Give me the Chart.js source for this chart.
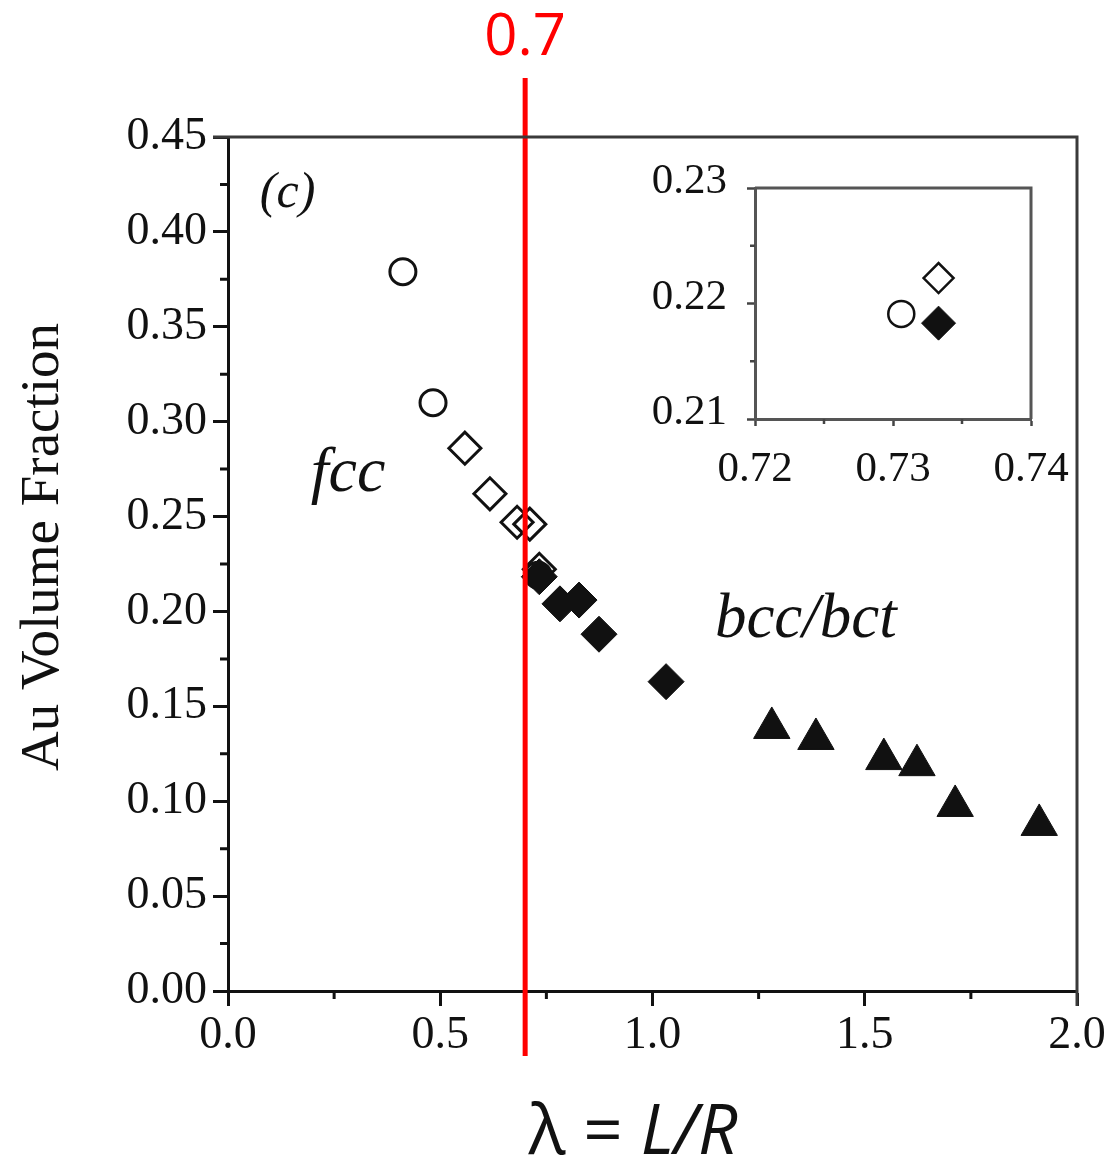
<!DOCTYPE html>
<html>
<head>
<meta charset="utf-8">
<script src="https://cdn.jsdelivr.net/npm/chart.js@4.4.0/dist/chart.umd.min.js"></script>
<style>
  html, body { margin: 0; padding: 0; background: #fff; }
  #wrap { position: relative; width: 1118px; height: 1169px; overflow: hidden; }
  #main { position: absolute; left: 0; top: 0; }
  #inset { position: absolute; left: 620px; top: 150px; }
</style>
</head>
<body>
<div id="wrap">
  <canvas id="main" width="1118" height="1169"></canvas>
  <canvas id="inset" width="470" height="350"></canvas>
</div>
<script>
// Au volume fraction versus λ = L/R, grouped by marker type
const fccCircleX   = [0.412, 0.483, 0.7306];
const fccCircleY   = [0.379, 0.310, 0.2191];
const fccDiamondX  = [0.558, 0.617, 0.681, 0.711, 0.7333];
const fccDiamondY  = [0.286, 0.262, 0.247, 0.246, 0.2222];
const bccDiamondX  = [0.7333, 0.782, 0.827, 0.874, 1.032];
const bccDiamondY  = [0.2183, 0.204, 0.206, 0.188, 0.163];
const bctTriangleX = [1.281, 1.385, 1.545, 1.623, 1.713, 1.911];
const bctTriangleY = [0.1386, 0.1328, 0.1222, 0.119, 0.0975, 0.0875];

// tick values
const xTicks = [0, 0.5, 1.0, 1.5, 2.0];
const yTicks = [0, 0.05, 0.10, 0.15, 0.20, 0.25, 0.30, 0.35, 0.40, 0.45];
const insetXTicks = [0.72, 0.73, 0.74];
const insetYTicks = [0.21, 0.22, 0.23];

// phase boundary marked in red
const boundaryX = 0.7;

const SERIF = '"Liberation Serif", "Times New Roman", serif';
const SANS = '"Open Sans", "Noto Sans", sans-serif';
const INK = '#111';

function pts(xs, ys, xr, yr) {
  const out = [];
  xs.forEach((x, i) => {
    const y = ys[i];
    if (xr && (x < xr[0] || x > xr[1] || y < yr[0] || y > yr[1])) return;
    out.push({ x, y });
  });
  return out;
}

function fixedTicks(list) {
  return scale => { scale.ticks = list.map(v => ({ value: v })); };
}

// fixed axis thickness; edge labels may overhang the plot box
function fitTo(prop, size) {
  return scale => {
    scale[prop] = size;
    scale.paddingTop = 0; scale.paddingBottom = 0;
    scale.paddingLeft = 0; scale.paddingRight = 0;
  };
}

// short ticks halfway between the labelled ones
function drawMinorTicks(ctx, scale, length, width, color) {
  const t = scale.ticks.map(k => k.value);
  ctx.save();
  ctx.strokeStyle = color;
  ctx.lineWidth = width;
  ctx.beginPath();
  for (let i = 0; i < t.length - 1; i++) {
    const v = (t[i] + t[i + 1]) / 2;
    const p = scale.getPixelForValue(v);
    if (scale.isHorizontal()) {
      ctx.moveTo(p, scale.top);
      ctx.lineTo(p, scale.top + length);
    } else {
      ctx.moveTo(scale.right, p);
      ctx.lineTo(scale.right - length, p);
    }
  }
  ctx.stroke();
  ctx.restore();
}

function markerSets(range) {
  const xr = range && range.x, yr = range && range.y;
  const big = !range;
  return [
    { label: 'bcc', data: pts(bccDiamondX, bccDiamondY, xr, yr), pointStyle: 'rectRot',
      pointRadius: big ? 18 : 17, borderWidth: 1, borderColor: INK, backgroundColor: INK, order: 0 },
    { label: 'fcc diamond', data: pts(fccDiamondX, fccDiamondY, xr, yr), pointStyle: 'rectRot',
      pointRadius: big ? 16 : 15, borderWidth: big ? 3 : 2.5, borderColor: INK, backgroundColor: 'rgba(255,255,255,0)', order: 1 },
    { label: 'fcc circle', data: pts(fccCircleX, fccCircleY, xr, yr), pointStyle: 'circle',
      pointRadius: 13, borderWidth: big ? 3 : 2.5, borderColor: INK, backgroundColor: '#fff', order: 2 },
    { label: 'bct', data: pts(bctTriangleX, bctTriangleY, xr, yr), pointStyle: 'triangle',
      pointRadius: 21, borderWidth: 1, borderColor: INK, backgroundColor: INK, order: 3 }
  ].map(d => Object.assign(d, { pointHoverRadius: d.pointRadius, showLine: false }));
}

const mainDecor = {
  id: 'mainDecor',
  afterDraw(chart) {
    const { ctx, chartArea: a, scales: { x, y } } = chart;
    drawMinorTicks(ctx, x, 8, 3, INK);
    drawMinorTicks(ctx, y, 8, 3, INK);

    // top and right frame lines
    ctx.save();
    ctx.strokeStyle = '#3a3a3a';
    ctx.lineWidth = 3;
    ctx.beginPath();
    ctx.moveTo(a.left - 15, a.top);
    ctx.lineTo(a.right, a.top);
    ctx.lineTo(a.right, a.bottom + 15);
    ctx.stroke();
    ctx.restore();

    ctx.save();
    ctx.fillStyle = INK;
    // panel letter
    ctx.font = 'italic 50px ' + SERIF;
    ctx.textAlign = 'left';
    ctx.textBaseline = 'alphabetic';
    ctx.fillText('(c)', x.getPixelForValue(0.075), y.getPixelForValue(0.413));
    // region labels
    ctx.font = 'italic 64px ' + SERIF;
    ctx.textAlign = 'center';
    ctx.fillText('fcc', x.getPixelForValue(0.283), y.getPixelForValue(0.2634));
    ctx.textAlign = 'left';
    ctx.font = 'italic 63px ' + SERIF;
    ctx.fillText('bcc/bct', x.getPixelForValue(1.147), y.getPixelForValue(0.1865));

    // y axis title
    ctx.save();
    ctx.translate(44, (a.top + a.bottom) / 2 - 17);
    ctx.rotate(-Math.PI / 2);
    ctx.font = '55px ' + SERIF;
    ctx.textAlign = 'center';
    ctx.textBaseline = 'middle';
    ctx.fillText('Au Volume Fraction', 0, 0);
    ctx.restore();

    // x axis title: λ = L/R
    const partA = 'λ = ', partB = 'L/R';
    const size = 69;
    ctx.font = size + 'px ' + SANS;
    const wA = ctx.measureText(partA).width;
    ctx.font = 'italic ' + size + 'px ' + SANS;
    const wB = ctx.measureText(partB).width;
    const cx = 633;
    const x0 = cx - (wA + wB) / 2;
    ctx.textAlign = 'left';
    ctx.textBaseline = 'alphabetic';
    ctx.font = size + 'px ' + SANS;
    ctx.fillText(partA, x0, 1154);
    ctx.font = 'italic ' + size + 'px ' + SANS;
    ctx.fillText(partB, x0 + wA, 1154);
    ctx.restore();
  },
  afterDatasetsDraw(chart) {
    const { ctx, scales: { x } } = chart;
    const px = x.getPixelForValue(boundaryX);
    ctx.save();
    ctx.strokeStyle = '#ff0000';
    ctx.lineWidth = 5;
    ctx.beginPath();
    ctx.moveTo(px, 78);
    ctx.lineTo(px, 1056);
    ctx.stroke();
    ctx.fillStyle = '#ff0000';
    ctx.font = '58px ' + SANS;
    ctx.textAlign = 'center';
    ctx.textBaseline = 'alphabetic';
    ctx.fillText(String(boundaryX), px, 55);
    ctx.restore();
  }
};

new Chart(document.getElementById('main'), {
  type: 'scatter',
  data: { datasets: markerSets(null) },
  options: {
    responsive: false,
    animation: false,
    devicePixelRatio: 1,
    layout: { padding: { left: 0, top: 137, right: 41, bottom: 0 } },
    plugins: { legend: { display: false }, tooltip: { enabled: false } },
    scales: {
      x: {
        type: 'linear', min: 0, max: 2,
        afterBuildTicks: fixedTicks(xTicks),
        afterFit: fitTo('height', 178),
        grid: { drawOnChartArea: false, tickLength: 15, tickWidth: 3, tickColor: INK },
        border: { color: INK, width: 3 },
        ticks: { font: { family: SERIF, size: 46 }, color: INK, padding: 2, maxRotation: 0,
                 callback: v => Number(v).toFixed(1) }
      },
      y: {
        type: 'linear', min: 0, max: 0.45,
        afterBuildTicks: fixedTicks(yTicks),
        afterFit: fitTo('width', 228),
        grid: { drawOnChartArea: false, tickLength: 15, tickWidth: 3, tickColor: INK },
        border: { color: INK, width: 3 },
        ticks: { font: { family: SERIF, size: 46 }, color: INK, padding: 6,
                 callback: v => Number(v).toFixed(2) }
      }
    }
  },
  plugins: [mainDecor]
});

const insetDecor = {
  id: 'insetDecor',
  beforeDraw(chart) {
    const { ctx, chartArea: a } = chart;
    ctx.save();
    ctx.fillStyle = '#fff';
    ctx.fillRect(a.left, a.top, a.right - a.left, a.bottom - a.top);
    ctx.restore();
  },
  afterDraw(chart) {
    const { ctx, chartArea: a, scales: { x, y } } = chart;
    drawMinorTicks(ctx, y, 5, 2.5, '#444');
    drawMinorTicks(ctx, x, 5, 2.5, '#444');
    ctx.save();
    ctx.strokeStyle = '#555';
    ctx.lineWidth = 3;
    ctx.beginPath();
    ctx.moveTo(a.left, a.top);
    ctx.lineTo(a.right, a.top);
    ctx.lineTo(a.right, a.bottom);
    ctx.stroke();
    ctx.restore();
  }
};

const insetRange = { x: [0.72, 0.74], y: [0.21, 0.23] };
new Chart(document.getElementById('inset'), {
  type: 'scatter',
  data: { datasets: markerSets(insetRange) },
  options: {
    responsive: false,
    animation: false,
    devicePixelRatio: 1,
    layout: { padding: { left: 0, top: 38, right: 59, bottom: 0 } },
    plugins: { legend: { display: false }, tooltip: { enabled: false } },
    scales: {
      x: {
        type: 'linear', min: insetRange.x[0], max: insetRange.x[1],
        afterBuildTicks: fixedTicks(insetXTicks),
        afterFit: fitTo('height', 81),
        grid: { drawOnChartArea: false, tickLength: 7, tickWidth: 2.5, tickColor: '#444' },
        border: { color: '#555', width: 3 },
        ticks: { font: { family: SERIF, size: 43 }, color: INK, padding: 18, maxRotation: 0,
                 callback: v => Number(v).toFixed(2) }
      },
      y: {
        type: 'linear', min: insetRange.y[0], max: insetRange.y[1],
        afterBuildTicks: fixedTicks(insetYTicks),
        afterFit: fitTo('width', 135),
        grid: { drawOnChartArea: false, tickLength: 8, tickWidth: 2.5, tickColor: '#444' },
        border: { color: '#555', width: 3 },
        ticks: { font: { family: SERIF, size: 43 }, color: INK, padding: 20, labelOffset: -6,
                 callback: v => Number(v).toFixed(2) }
      }
    }
  },
  plugins: [insetDecor]
});
</script>
</body>
</html>
